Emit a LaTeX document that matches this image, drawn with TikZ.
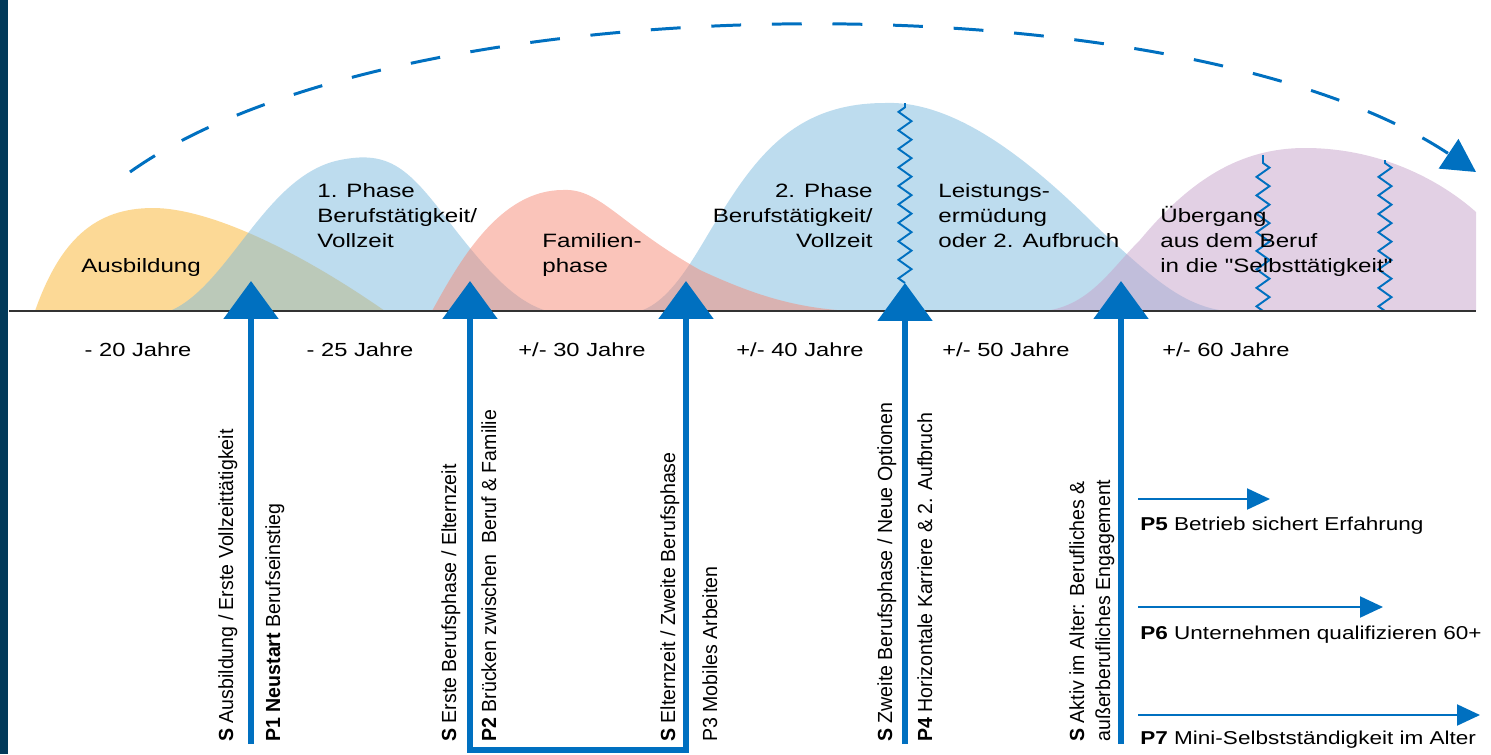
\documentclass[tikz,border=0pt]{standalone}
\usepackage{fontspec}
\setmainfont{Liberation Sans}
\newfontfamily\wideface[FakeStretch=1.25]{Liberation Sans}
\newfontfamily\offerface[FakeStretch=1.21]{Liberation Sans}
\newfontfamily\slimface[FakeStretch=0.96]{Liberation Sans}
\usetikzlibrary{arrows.meta,decorations.pathmorphing}

\definecolor{navy}{RGB}{2,58,90}
\definecolor{arrowblue}{RGB}{0,112,192}
\definecolor{axisgray}{RGB}{50,50,50}
\definecolor{schoolorange}{RGB}{249,179,45}
\definecolor{jobblue}{RGB}{123,185,221}
\definecolor{familysalmon}{RGB}{245,137,117}
\definecolor{retirelilac}{RGB}{197,161,201}

\tikzset{
  bigtip/.tip={Triangle[length=0.76cm,width=1.08cm]},
  phase/.style={font=\wideface\fontsize{11}{14.2}\selectfont, inner sep=0pt, align=left, anchor=base west},
  age/.style={font=\wideface\fontsize{10.8}{13}\selectfont, inner sep=0pt, anchor=base},
  measure/.style={rotate=90, anchor=base west, inner sep=0pt, align=left,
    font=\slimface\fontsize{11.6}{14.8}\selectfont},
  offer/.style={font=\offerface\fontsize{10.6}{13}\selectfont, inner sep=0pt, anchor=base west},
  uparrow/.style={draw=arrowblue, line width=3.2pt, -bigtip},
  sidearrow/.style={draw=arrowblue, line width=1.2pt, -{Triangle[length=0.46cm,width=0.42cm]}},
  wiggle/.style={draw=arrowblue, line width=1.1pt, decorate,
    decoration={zigzag, segment length=0.37cm, amplitude=0.13cm}},
  hill/.style={fill opacity=0.5},
}

\begin{document}
\begin{tikzpicture}[x=0.02cm, y=-0.02cm]
  \useasboundingbox (0,0) rectangle (1491,754);
  \fill[navy] (0,0) rectangle (8,754);

  % phases
  \fill[hill, schoolorange] (35,311) .. controls (60,240) and (95,208) .. (153,208)
    .. controls (205,208) and (290,245) .. (385,311) -- cycle;
  \fill[hill, jobblue] (170,311) .. controls (230,285) and (265,175) .. (340,160)
    .. controls (385,151) and (405,165) .. (440,210)
    .. controls (480,262) and (510,300) .. (547,311) -- cycle;
  \fill[hill, jobblue] (640,311) .. controls (675,300) and (700,245) .. (720,215)
    .. controls (760,150) and (800,103) .. (885,103)
    .. controls (960,100) and (1040,170) .. (1100,230)
    .. controls (1150,275) and (1180,305) .. (1225,311) -- cycle;
  \fill[hill, familysalmon] (432,311) .. controls (460,260) and (500,190) .. (563,190)
    .. controls (600,188) and (620,225) .. (700,270)
    .. controls (760,298) and (800,308) .. (850,311) -- cycle;
  \fill[hill, retirelilac] (1045,311) .. controls (1090,305) and (1110,270) .. (1140,240)
    .. controls (1190,180) and (1240,148) .. (1305,148)
    .. controls (1380,148) and (1440,180) .. (1476,212) -- (1476,311) -- cycle;

  % breaks
  \coordinate (brk1top) at (905,103);
  \coordinate (brk1bot) at (905,283);
  \coordinate (brk2top) at (1263,155);
  \coordinate (brk2bot) at (1263,311);
  \coordinate (brk3top) at (1385,160);
  \coordinate (brk3bot) at (1385,311);
  \draw[wiggle] (brk1bot) -- (brk1top);
  \draw[wiggle] (brk2bot) -- (brk2top);
  \draw[wiggle] (brk3bot) -- (brk3top);

  % time axis
  \coordinate (axisL) at (9,311);
  \coordinate (axisR) at (1476,311);
  \draw[axisgray, line width=1.2pt] (axisL) -- (axisR);

  % life arc
  \coordinate (arcstart) at (130,172);
  \coordinate (arcend) at (1476,172);
  \draw[arrowblue, line width=1.7pt, dash pattern=on 17pt off 17.5pt,
    -{Triangle[length=0.66cm,width=0.7cm]}]
    (arcstart) .. controls (400,-20) and (1180,-25) .. (arcend);

  % phase labels (anchored on the last line)
  \node[phase] (ausb) at (81,272) {Ausbildung};
  \node[phase] (phase1) at (317,247) {1. Phase\\Berufstätigkeit/\\Vollzeit};
  \node[phase] (family) at (542,272) {Familien-\\phase};
  \node[phase, anchor=base east, align=right] (phase2) at (873,247) {2. Phase\\Berufstätigkeit/\\Vollzeit};
  \node[phase] (fatigue) at (938,247) {Leistungs-\\ermüdung\\oder 2. Aufbruch};
  \node[phase] (exit) at (1160,272) {Übergang\\aus dem Beruf\\in die "Selbsttätigkeit"};

  % ages
  \node[age] (age20) at (138,356) {- 20 Jahre};
  \node[age] (age25) at (360,356) {- 25 Jahre};
  \node[age] (age30) at (582,356) {+/- 30 Jahre};
  \node[age] (age40) at (800,356) {+/- 40 Jahre};
  \node[age] (age50) at (1006,356) {+/- 50 Jahre};
  \node[age] (age60) at (1226,356) {+/- 60 Jahre};

  % entry arrows
  \coordinate (tip1) at (251,281);  \coordinate (foot1) at (251,744);
  \coordinate (tip2) at (470,281);  \coordinate (foot2) at (470,750);
  \coordinate (tip3) at (686,281);  \coordinate (foot3) at (686,750);
  \coordinate (tip4) at (905,283);  \coordinate (foot4) at (905,744);
  \coordinate (tip5) at (1121,281); \coordinate (foot5) at (1121,744);
  \draw[uparrow] (foot1) -- (tip1);
  \draw[uparrow, bigtip-bigtip, line join=miter] (tip2) -- (foot2) -- (foot3) -- (tip3);
  \draw[uparrow] (foot4) -- (tip4);
  \draw[uparrow] (foot5) -- (tip5);

  % measures
  \node[measure] (s1) at (233,742) {\textbf{S} Ausbildung / Erste Vollzeittätigkeit};
  \node[measure] (p1) at (280,742) {\textbf{P1 Neustart} Berufseinstieg};
  \node[measure] (s2) at (456,742) {\textbf{S} Erste Berufsphase / Elternzeit};
  \node[measure] (p2) at (496,742) {\textbf{P2} Brücken zwischen\ \ Beruf \& Familie};
  \node[measure] (s3) at (675,742) {\textbf{S} Elternzeit / Zweite Berufsphase};
  \node[measure] (p3) at (717,742) {P3 Mobiles Arbeiten};
  \node[measure] (s4) at (892,742) {\textbf{S} Zweite Berufsphase / Neue Optionen};
  \node[measure] (p4) at (932,742) {\textbf{P4} Horizontale Karriere \& 2. Aufbruch};
  \node[measure] (s5) at (1110,742) {\textbf{S} Aktiv im Alter: Berufliches \&\\außerberufliches Engagement};

  % late offers
  \coordinate (o5a) at (1138,499); \coordinate (o5b) at (1270,499);
  \coordinate (o6a) at (1138,607); \coordinate (o6b) at (1383,607);
  \coordinate (o7a) at (1138,715); \coordinate (o7b) at (1480,715);
  \draw[sidearrow] (o5a) -- (o5b);
  \draw[sidearrow] (o6a) -- (o6b);
  \draw[sidearrow] (o7a) -- (o7b);
  \node[offer] (p5) at (1140,530) {\textbf{P5} Betrieb sichert Erfahrung};
  \node[offer] (p6) at (1140,639) {\textbf{P6} Unternehmen qualifizieren 60+};
  \node[offer] (p7) at (1140,744) {\textbf{P7} Mini-Selbstständigkeit im Alter};
\end{tikzpicture}
\end{document}
